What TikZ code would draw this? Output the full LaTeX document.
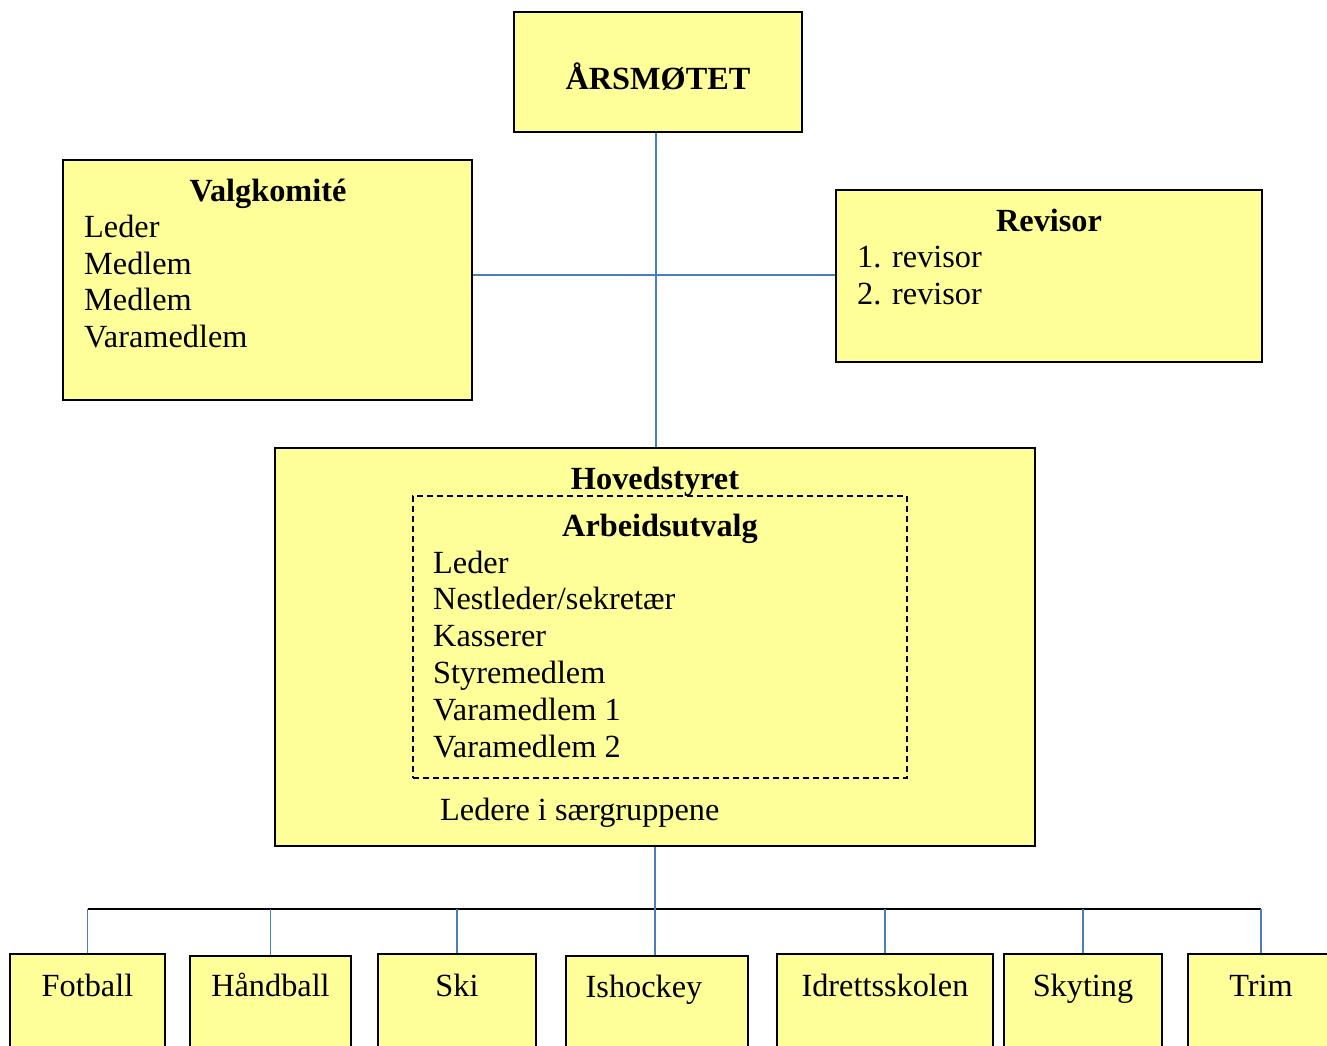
\documentclass[tikz,border=0pt]{standalone}
\usepackage{fontspec}
\setmainfont{Liberation Serif}
\definecolor{boxfill}{HTML}{FFFF99}
\definecolor{linkblue}{HTML}{4A7EBB}
\begin{document}
\begin{tikzpicture}[x={(1pt,0)},y={(0,-1pt)},
  box/.style={draw=black,line width=1.8pt,fill=boxfill,rectangle,inner sep=0pt},
  txt/.style={inner sep=0pt,font=\fontsize{32.3}{36.7}\selectfont},
  ttl/.style={inner sep=0pt,font=\fontsize{32.3}{36.7}\selectfont\bfseries},
  link/.style={draw=linkblue,line width=1.7pt},
  bar/.style={draw=black,line width=1.8pt}]
\useasboundingbox (0,0) rectangle (1327,1046);
\clip (0,0) rectangle (1327,1046);
% boxes
\node[box,minimum width=288,minimum height=120] (ars) at (658,72) {};
\node[box,minimum width=409,minimum height=240] (valg) at (267.5,280) {};
\node[box,minimum width=426,minimum height=172] (rev) at (1049,276) {};
\node[box,minimum width=760,minimum height=398] (hoved) at (655,647) {};
\node[draw=black,line width=1.3pt,dash pattern=on 6pt off 4pt,rectangle,inner sep=0pt,minimum width=494,minimum height=282] (arb) at (660,637) {};
% bottom boxes (extend below the frame)
\node[box,minimum width=155,minimum height=140] (fot) at (87.5,1024) {};
\node[box,minimum width=161,minimum height=140] (hand) at (270.5,1026) {};
\node[box,minimum width=158,minimum height=140] (ski) at (457,1024) {};
\node[box,minimum width=182,minimum height=140] (ish) at (657,1026) {};
\node[box,minimum width=216,minimum height=140] (idr) at (885,1024) {};
\node[box,minimum width=158,minimum height=140] (sky) at (1083,1024) {};
\node[box,minimum width=146,minimum height=140] (trim) at (1261,1024) {};
% texts
\node[ttl,anchor=base] (tars) at (658,90) {ÅRSMØTET};
\node[ttl,anchor=base] (tvalg) at (268,201) {Valgkomité};
\node[txt,anchor=base west] (v1) at (84,237) {Leder};
\node[txt,anchor=base west] (v2) at (84,274) {Medlem};
\node[txt,anchor=base west] (v3) at (84,310) {Medlem};
\node[txt,anchor=base west] (v4) at (84,347) {Varamedlem};
\node[ttl,anchor=base] (trev) at (1049,231) {Revisor};
\node[txt,anchor=base west] (r1) at (857,267) {1. revisor};
\node[txt,anchor=base west] (r2) at (857,304) {2. revisor};
\node[ttl,anchor=base] (thov) at (655,489) {Hovedstyret};
\node[ttl,anchor=base] (tarb) at (660,536) {Arbeidsutvalg};
\node[txt,anchor=base west] (a1) at (433,573) {Leder};
\node[txt,anchor=base west] (a2) at (433,609) {Nestleder/sekretær};
\node[txt,anchor=base west] (a3) at (433,646) {Kasserer};
\node[txt,anchor=base west] (a4) at (433,683) {Styremedlem};
\node[txt,anchor=base west] (a5) at (433,720) {Varamedlem 1};
\node[txt,anchor=base west] (a6) at (433,757) {Varamedlem 2};
\node[txt,anchor=base west] (led) at (440,820) {Ledere i særgruppene};
\node[txt,anchor=base] (tfot) at (87.5,996) {Fotball};
\node[txt,anchor=base] (thand) at (270.5,996) {Håndball};
\node[txt,anchor=base] (tski) at (457,996) {Ski};
\node[txt,anchor=base] (tish) at (644,997) {Ishockey};
\node[txt,anchor=base] (tidr) at (885,996) {Idrettsskolen};
\node[txt,anchor=base] (tsky) at (1083,996) {Skyting};
\node[txt,anchor=base] (ttrim) at (1261,996) {Trim};
% connectors
\coordinate (j) at (656,275);
\coordinate (bl) at (88,909);
\coordinate (br) at (1261,909);
\draw[link] (ars.south -| j) -- (hoved.north -| j);
\draw[link] (valg.east |- j) -- (j);
\draw[link] (j) -- (rev.west |- j);
\draw[bar] (bl) -- (br);
\draw[link] (fot.north) -- (fot.north |- bl);
\draw[link] (hand.north) -- (hand.north |- bl);
\draw[link] (ski.north) -- (ski.north |- bl);
\draw[link] (hoved.south) -- (hoved.south |- ish.north);
\draw[link] (idr.north) -- (idr.north |- bl);
\draw[link] (sky.north) -- (sky.north |- bl);
\draw[link] (trim.north) -- (trim.north |- bl);
\end{tikzpicture}
\end{document}
